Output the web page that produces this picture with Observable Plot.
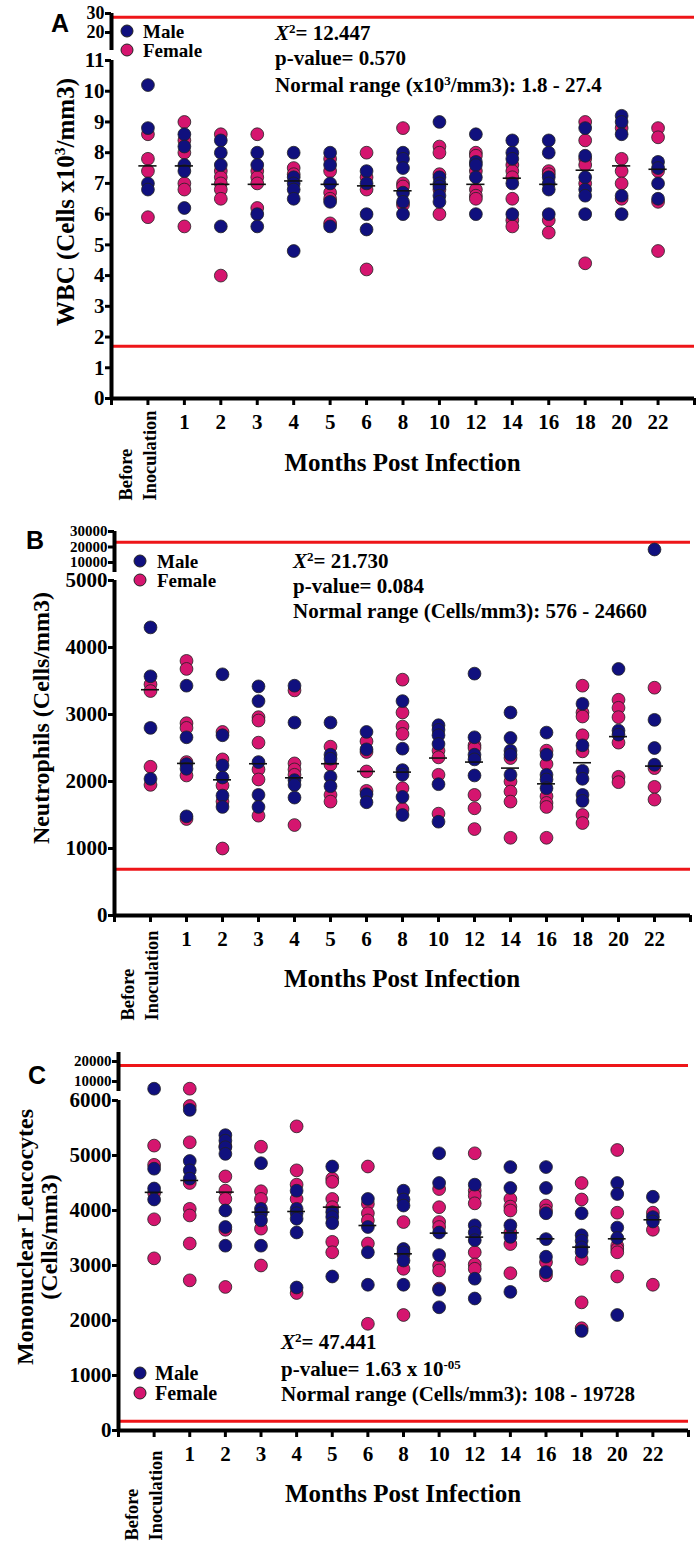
<!DOCTYPE html>
<html><head><meta charset="utf-8">
<script src="https://cdn.jsdelivr.net/npm/d3@7"></script>
<script src="https://cdn.jsdelivr.net/npm/@observablehq/plot@0.6"></script>
<style>
body{margin:0;background:#fff}
#root{position:relative;width:700px;height:1545px;overflow:hidden;background:#fff;font-family:"Liberation Serif","Times New Roman",serif;font-weight:bold;color:#000}
#root svg{position:absolute;left:0;overflow:visible;background:transparent}
.lbl{position:absolute;white-space:nowrap;line-height:1;transform:translateY(-50%)}
.rot{position:absolute;white-space:nowrap;line-height:1.0;transform:translate(-50%,-50%) rotate(-90deg);text-align:center}
.ldot{position:absolute;width:13px;height:13px;border-radius:50%;border:1px solid #222;box-sizing:border-box;transform:translate(-50%,-50%)}
.sup{font-size:0.62em;position:relative;top:-0.55em}
.letter{position:absolute;font-family:"Liberation Sans",Arial,sans-serif;font-weight:bold;font-size:25px;line-height:1;transform:translate(-50%,-50%)}
</style>
</head><body>
<div id="root"></div>
<script>
// ---------------- data ----------------
const categories = ["Before Inoculation","1","2","3","4","5","6","8","10","12","14","16","18","20","22"];
const sexes = ["Male","Female"];

// Panel A: WBC (x10^3 cells/mm3)
const wbcMale = [
 [10.2, 8.8, 7.0, 6.8],
 [8.6, 8.2, 7.6, 7.4, 6.2],
 [8.4, 8.0, 7.6, 5.6],
 [8.0, 7.6, 6.0, 5.6],
 [8.0, 7.2, 7.0, 6.8, 6.5, 4.8],
 [8.0, 7.6, 7.0, 6.4, 5.6],
 [7.4, 7.0, 6.0, 5.5],
 [8.0, 7.8, 7.5, 6.7, 6.4, 6.0],
 [9.0, 7.2, 7.0, 6.9, 6.6, 6.4],
 [8.6, 7.7, 7.6, 7.2, 6.0],
 [8.4, 8.0, 7.8, 7.0, 6.0],
 [8.4, 8.0, 7.2, 7.0, 6.8, 6.0],
 [8.8, 7.9, 7.2, 6.8, 6.6, 6.0],
 [9.2, 9.0, 8.6, 6.6, 6.0],
 [7.7, 7.5, 7.0, 6.5]
];
const wbcFemale = [
 [8.6, 7.8, 7.4, 5.9],
 [9.0, 8.4, 8.0, 7.0, 6.8, 5.6],
 [8.6, 7.4, 7.2, 7.0, 6.8, 6.5, 4.0],
 [8.6, 7.4, 7.2, 7.0, 6.2],
 [7.5, 7.3],
 [7.8, 7.4, 6.7, 6.5, 5.7],
 [8.0, 7.2, 6.8, 4.2],
 [8.8, 7.0, 6.9, 6.3],
 [8.2, 8.0, 7.3, 6.8, 6.0],
 [8.0, 7.9, 7.4, 6.8, 6.6, 6.5],
 [7.6, 7.4, 7.2, 6.5, 5.8, 5.6],
 [7.4, 7.3, 5.8, 5.4],
 [9.0, 8.4, 7.8, 7.6, 7.0, 4.4],
 [8.8, 7.8, 7.4, 7.0, 6.5],
 [8.8, 8.5, 7.4, 6.4, 4.8]
];
const wbcMean = [7.57, 7.57, 6.97, 6.97, 7.08, 6.97, 6.92, 6.76, 6.97, 6.97, 7.17, 6.97, 7.43, 7.57, 7.46];
const wbcNormalLines = [1.7, 28];
const wbcStats = ["12.447", "0.570", "1.8 - 27.4"];

// Panel B: Neutrophils (cells/mm3)
const neuMale = [
 [4300, 3570, 2800, 2040],
 [3430, 2660, 2260, 2190, 1480],
 [3600, 2690, 2240, 2060, 1790, 1620],
 [3420, 3200, 2290, 1800, 1620],
 [3430, 2880, 2020, 1950, 1760],
 [2880, 2400, 2340, 2070, 1930],
 [2740, 2480, 1810, 1690],
 [3200, 2490, 2170, 2100, 1770, 1500],
 [2840, 2770, 2690, 2560, 1960, 1400],
 [3610, 2660, 2400, 2330, 2090],
 [3030, 2650, 2460, 2400, 2100],
 [2730, 2400, 2100, 2030, 1900],
 [3160, 2540, 2160, 2040, 1800, 1710],
 [3680, 2760, 2700],
 [18400, 2920, 2500, 2250]
];
const neuFemale = [
 [3450, 3350, 2220, 1950],
 [3800, 3680, 2870, 2800, 2290, 2090, 1440],
 [2740, 2330, 1940, 1700, 1000],
 [2960, 2910, 2580, 2180, 2030, 1490],
 [3360, 2270, 2180, 2100, 1350],
 [2520, 2250, 1800, 1700],
 [2600, 2440, 2150, 1860],
 [3520, 3030, 2820, 2710, 1900, 1590],
 [2460, 2360, 2100, 1520],
 [2540, 2500, 1800, 1600, 1290],
 [2350, 2000, 1850, 1700, 1160],
 [2460, 2260, 1780, 1680, 1620, 1160],
 [3430, 3030, 2970, 2690, 2450, 1500, 1380],
 [3220, 3100, 2960, 2580, 2070, 1990],
 [3400, 2200, 1920, 1730]
];
const neuMean = [3370, 2270, 2025, 2265, 2055, 2265, 2150, 2140, 2350, 2290, 2200, 1965, 2280, 2670, 2230];
const neuNormalLines = [690, 23000];
const neuStats = ["21.730", "0.084", "576 - 24660"];

// Panel C: Mononuclear leucocytes (cells/mm3)
const monoMale = [
 [6400, 4760, 4400, 4200],
 [5830, 4900, 4730, 4580],
 [5370, 5270, 5150, 5030, 4000, 3700, 3360],
 [4860, 4030, 3950, 3820, 3360],
 [4360, 4030, 3950, 3850, 3600, 2600],
 [4800, 3970, 3880, 3770, 2800],
 [4210, 3700, 3240, 2650],
 [4360, 4200, 4090, 3300, 3240, 3090, 2650],
 [5040, 4500, 3600, 3190, 2560, 2240],
 [4470, 3730, 3600, 3460, 2760, 2400],
 [4790, 4410, 3730, 3520, 2520],
 [4790, 4410, 3950, 3480, 3160, 2880],
 [3950, 3550, 3450, 3330, 3250, 1810],
 [4500, 4300, 3690, 3500, 2100],
 [4250, 3880, 3800]
];
const monoFemale = [
 [5180, 4830, 4320, 3840, 3130],
 [6400, 5900, 5240, 4500, 4030, 3910, 3400, 2730],
 [5170, 4620, 4360, 4210, 3650, 2610],
 [5160, 4350, 4210, 3670, 3000],
 [5530, 4730, 4470, 4210, 2500],
 [4580, 4520, 4210, 4060, 3430, 3240],
 [4800, 4120, 3950, 3820, 3400, 1940],
 [3790, 3200, 2940, 2100],
 [4390, 4060, 3790, 3700, 3000, 2910, 2580],
 [5040, 4360, 4270, 4130, 3240, 3020, 2940],
 [4210, 4070, 4000, 3600, 3390, 2860],
 [4090, 4000, 3060, 2820],
 [4500, 4200, 3120, 2330, 1860],
 [5100, 3960, 3360, 3300, 3240, 2800],
 [3960, 3650, 2650]
];
const monoMean = [4330, 4546, 4334, 3970, 3982, 4061, 3727, 3213, 3588, 3516, 3594, 3485, 3334, 3485, 3831];
const monoNormalLines = [170, 18000];
const monoStats = ["47.441", "1.63 x 10", "108 - 19728"];

// ---------------- styling / layout ----------------
const MALE = "#10107e", FEMALE = "#d5156f", RED = "#ee1518";
const SERIF = "Liberation Serif, Times New Roman, serif";
const root = document.getElementById("root");

const panels = [
 {letter:"A", male:wbcMale, female:wbcFemale, mean:wbcMean, normal:wbcNormalLines,
  top:0, h:505, spineX:111, endX:694, mainTopPx:60, zeroPx:398, mainMax:11, mainTicks:d3.range(0,12),
  segTopPx:13, segBotPx:50, segDomain:[10.5,30], segTicks:[20,30], segFont:18, segDy:0, beforeBottom:500,
  letterPos:[60,23], ytitle:{x:65,y:202,html:'WBC (Cells x10<span class="sup">3</span>/mm3)'}, xtitleY:462,
  legend:{x:127,y:[31,50],tx:143,font:19},
  stats:{x:275,y:[33,58,85],lines:[`<i>X</i><span class="sup">2</span>= ${wbcStats[0]}`,`p-value= ${wbcStats[1]}`,`Normal range (x10<span class="sup">3</span>/mm3): ${wbcStats[2]}`]}},
 {letter:"B", male:neuMale, female:neuFemale, mean:neuMean, normal:neuNormalLines,
  top:505, h:520, spineX:114, endX:690, mainTopPx:580, zeroPx:915, mainMax:5000, mainTicks:d3.range(0,5001,1000),
  segTopPx:531, segBotPx:572, segDomain:[3550,30000], segTicks:[10000,20000,30000], segFont:15, segDy:0, beforeBottom:1020,
  letterPos:[35,540], ytitle:{x:41,y:718,html:'Neutrophils (Cells/mm3)'}, xtitleY:978,
  legend:{x:140,y:[561,580],tx:157,font:19},
  stats:{x:293,y:[561,586,611],lines:[`<i>X</i><span class="sup">2</span>= ${neuStats[0]}`,`p-value= ${neuStats[1]}`,`Normal range (Cells/mm3): ${neuStats[2]}`]}},
 {letter:"C", male:monoMale, female:monoFemale, mean:monoMean, normal:monoNormalLines,
  top:1025, h:520, spineX:118, endX:688, mainTopPx:1100, zeroPx:1430, mainMax:6000, mainTicks:d3.range(0,6001,1000),
  segTopPx:1053, segBotPx:1092, segDomain:[5000,24500], segTicks:[10000,20000], segFont:15, segDy:-1, beforeBottom:1540,
  letterPos:[37,1075], ytitle:{x:37,y:1237,html:'Mononuclear Leucocytes<br>(Cells/mm3)'}, xtitleY:1493,
  legend:{x:140,y:[1373,1393],tx:155,font:20},
  stats:{x:281,y:[1342,1369,1394],lines:[`<i>X</i><span class="sup">2</span>= ${monoStats[0]}`,`p-value= ${monoStats[1]}<span class="sup">-05</span>`,`Normal range (Cells/mm3): ${monoStats[2]}`]}}
];

function rowsOf(arr, sex){ const r=[]; arr.forEach((vals,i)=>vals.forEach(v=>r.push({x:i+1, v, sex}))); return r; }

function axisOpts(extra){ return Object.assign({tickSize:6, tickPadding:1, strokeWidth:3, fontSize:21, fontWeight:"bold", fontFamily:SERIF, label:null}, extra); }

for (const P of panels) {
  const fem = rowsOf(P.female, sexes[1]), mal = rowsOf(P.male, sexes[0]);
  const inMain = d => d.v <= P.mainMax;
  const meanRows = P.mean.map((m,i)=>({x:i+1, m}));
  const mL = P.spineX, mR = 700 - P.endX;

  const main = Plot.plot({
    width:700, height:P.h, marginLeft:mL, marginRight:mR,
    marginTop:P.mainTopPx - P.top, marginBottom:P.top + P.h - P.zeroPx,
    x:{domain:[0,16]}, y:{domain:[0,P.mainMax]},
    style:{background:"transparent", fontFamily:SERIF, fontWeight:"bold", overflow:"visible"},
    marks:[
      Plot.ruleY([P.normal[0]], {x1:0, x2:16, stroke:RED, strokeWidth:3}),
      Plot.dot(fem.filter(inMain), {x:"x", y:"v", r:6.4, fill:FEMALE, stroke:"#222", strokeWidth:0.8}),
      Plot.dot(mal.filter(inMain), {x:"x", y:"v", r:6.4, fill:MALE, stroke:"#222", strokeWidth:0.8}),
      Plot.ruleY(meanRows, {y:"m", x1:d=>d.x-0.25, x2:d=>d.x+0.25, stroke:"#111", strokeWidth:1.6}),
      Plot.axisY(axisOpts({ticks:P.mainTicks, tickFormat:d=>String(d)})),
      Plot.axisX(axisOpts({ticks:d3.range(17), tickFormat:i=>(i>=2 && i<=15) ? categories[i-1] : "", tickSize:7, tickPadding:9})),
      Plot.ruleX([0], {y1:0, y2:P.mainMax, stroke:"#000", strokeWidth:4}),
      Plot.ruleY([0], {x1:0, x2:16, stroke:"#000", strokeWidth:4}),
      Plot.text([categories[0]], {x:1, y:0, text:d=>d.replace(" ","\n"), rotate:-90, textAnchor:"start", lineAnchor:"middle", lineHeight:1.3,
        dx:-12, dy:P.beforeBottom - P.zeroPx, fontSize:18.4, fontWeight:"bold", fontFamily:SERIF, fill:"#000"})
    ]
  });
  main.style.top = P.top + "px";
  root.appendChild(main);

  const segPad = 8;
  const seg = Plot.plot({
    width:700, height:P.segBotPx - P.segTopPx + 2*segPad, marginLeft:mL, marginRight:mR, marginTop:segPad, marginBottom:segPad,
    x:{domain:[0,16], axis:null}, y:{domain:P.segDomain},
    style:{background:"transparent", fontFamily:SERIF, fontWeight:"bold", overflow:"visible"},
    marks:[
      Plot.ruleY([P.normal[1]], {x1:0, x2:16, stroke:RED, strokeWidth:3}),
      Plot.dot(fem.filter(d=>!inMain(d)), {x:"x", y:"v", r:6.4, fill:FEMALE, stroke:"#222", strokeWidth:0.8}),
      Plot.dot(mal.filter(d=>!inMain(d)), {x:"x", y:"v", r:6.4, fill:MALE, stroke:"#222", strokeWidth:0.8}),
      Plot.axisY(axisOpts({ticks:P.segTicks, tickFormat:d=>String(d), fontSize:P.segFont, textStroke:"none"})),
      Plot.ruleX([0], {y1:P.segDomain[0], y2:P.segDomain[1], stroke:"#000", strokeWidth:4})
    ]
  });
  seg.style.top = (P.segTopPx - segPad + P.segDy) + "px";
  root.appendChild(seg);

  // panel letter
  const L = document.createElement("div");
  L.className = "letter"; L.textContent = P.letter;
  L.style.left = P.letterPos[0] + "px"; L.style.top = P.letterPos[1] + "px";
  root.appendChild(L);

  // y title
  const yt = document.createElement("div");
  yt.className = "rot"; yt.innerHTML = P.ytitle.html;
  yt.style.left = P.ytitle.x + "px"; yt.style.top = P.ytitle.y + "px";
  yt.style.fontSize = (P.letter === "A" ? 25 : 24) + "px";
  yt.style.lineHeight = "1.0";
  root.appendChild(yt);

  // x title
  const xt = document.createElement("div");
  xt.className = "lbl"; xt.textContent = "Months Post Infection";
  xt.style.fontSize = "25px";
  xt.style.left = ((P.spineX + P.endX)/2) + "px"; xt.style.top = P.xtitleY + "px";
  xt.style.transform = "translate(-50%,-50%)";
  root.appendChild(xt);

  // legend
  sexes.forEach((s,k)=>{
    const d = document.createElement("div");
    d.className = "ldot"; d.style.background = k===0 ? MALE : FEMALE;
    d.style.left = P.legend.x + "px"; d.style.top = P.legend.y[k] + "px";
    root.appendChild(d);
    const t = document.createElement("div");
    t.className = "lbl"; t.textContent = s; t.style.fontSize = P.legend.font + "px";
    t.style.left = P.legend.tx + "px"; t.style.top = P.legend.y[k] + "px";
    root.appendChild(t);
  });

  // stats
  P.stats.lines.forEach((h,k)=>{
    const t = document.createElement("div");
    t.className = "lbl"; t.innerHTML = h; t.style.fontSize = "21px";
    t.style.left = P.stats.x + "px"; t.style.top = P.stats.y[k] + "px";
    root.appendChild(t);
  });
}
</script>
</body></html>
